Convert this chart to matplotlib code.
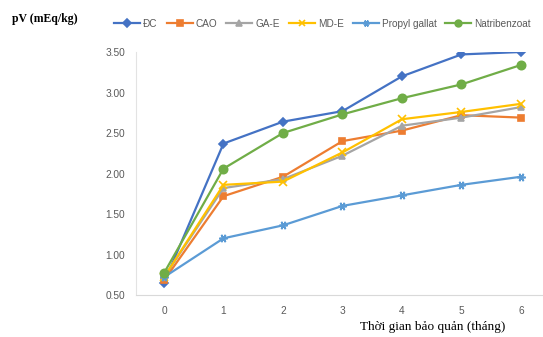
import matplotlib
matplotlib.use('Agg')
import matplotlib.pyplot as plt

# storage time (months) and peroxide values per preservative
months = [0, 1, 2, 3, 4, 5, 6]
dc = [0.65, 2.37, 2.64, 2.77, 3.20, 3.47, 3.50]
cao = [0.68, 1.72, 1.96, 2.40, 2.53, 2.72, 2.69]
ga_e = [0.72, 1.82, 1.93, 2.22, 2.59, 2.69, 2.82]
md_e = [0.72, 1.86, 1.90, 2.26, 2.67, 2.76, 2.86]
propyl = [0.72, 1.20, 1.36, 1.60, 1.73, 1.86, 1.96]
natri = [0.77, 2.06, 2.50, 2.73, 2.93, 3.10, 3.34]

names = ['ĐC', 'CAO', 'GA-E', 'MD-E', 'Propyl gallat', 'Natribenzoat']
series = [dc, cao, ga_e, md_e, propyl, natri]
colors = ['#4472C4', '#ED7D31', '#A5A5A5', '#FFC000', '#5B9BD5', '#70AD47']
markers = ['D', 's', '^', 'x', (6, 2, 90), 'o']
msizes = [4.5, 5, 5, 6, 6, 6]

fig = plt.figure(figsize=(5.43, 3.37), dpi=100)
ax = fig.add_axes([0.2505, 0.1246, 0.7495, 0.7211])

for name, vals, c, m, ms in zip(names, series, colors, markers, msizes):
    ax.plot(months, vals, color=c, marker=m, markersize=ms, lw=1.6,
            markeredgewidth=1.2, label=name)

ax.set_xlim(-0.47, 6.37)
ax.set_ylim(0.5, 3.5)
ax.set_xticks(months)
ax.set_yticks([0.5, 1.0, 1.5, 2.0, 2.5, 3.0, 3.5])
ax.set_yticklabels(['%.2f' % v for v in ax.get_yticks()])
ax.tick_params(length=0, labelsize=7.3, labelcolor='#595959', pad=8)
for lab in ax.get_xticklabels() + ax.get_yticklabels():
    lab.set_family('Liberation Sans')

for s in ['top', 'right']:
    ax.spines[s].set_visible(False)
ax.spines['left'].set_color('#E3E3E3')
ax.spines['bottom'].set_color('#D9D9D9')

fig.text(0.022, 0.945, 'pV (mEq/kg)', family='Liberation Serif',
         fontweight='bold', fontsize=8.5, va='center')
fig.text(0.797, 0.03, 'Thời gian bảo quản (tháng)', family='Liberation Serif',
         fontsize=9.5, ha='center', va='center')

leg = fig.legend(loc='center', bbox_to_anchor=(0.594, 0.93), ncol=6,
                 frameon=False, fontsize=7.2, handlelength=2.6,
                 columnspacing=0.9, handletextpad=0.3, markerscale=0.8)
for t in leg.get_texts():
    t.set_color('#595959')
    t.set_family('Liberation Sans')

fig.savefig('out.png', dpi=100)
